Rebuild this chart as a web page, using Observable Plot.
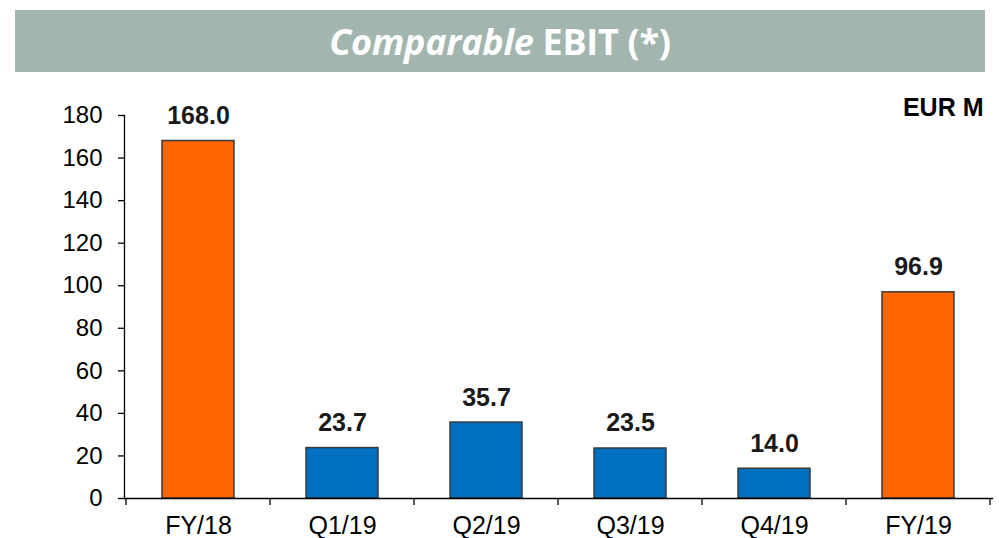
<!DOCTYPE html>
<html><head><meta charset="utf-8">
<script src="https://cdn.jsdelivr.net/npm/d3@7"></script>
<script src="https://cdn.jsdelivr.net/npm/@observablehq/plot@0.6"></script>
<style>
body{margin:0;background:#fff;width:999px;height:538px;overflow:hidden;position:relative}
#title{position:absolute;left:15px;top:10px;width:970px;height:62px;background:#A2B5AF;color:#fff;font:bold 36px "Open Sans",sans-serif;display:flex;align-items:center;justify-content:center;letter-spacing:-0.3px}
#chart{position:absolute;left:0;top:72px}
</style></head><body>
<div id="title"><span><i>Comparable</i> EBIT (*)</span></div>
<div id="chart"></div>
<script>
const categories = ["FY/18", "Q1/19", "Q2/19", "Q3/19", "Q4/19", "FY/19"];
const values = [168.0, 23.7, 35.7, 23.5, 14.0, 96.9];
const kinds = ["year", "quarter", "quarter", "quarter", "quarter", "year"];
const yTicks = [0, 20, 40, 60, 80, 100, 120, 140, 160, 180];
const unitLabel = "EUR M";

const data = categories.map((c, i) => ({cat: c, value: values[i], kind: kinds[i]}));

const boundaryTicks = (index, scales, vals, dims) => {
  const x = scales.x;
  const bw = typeof x.bandwidth === "function" ? x.bandwidth() : scales.scales.x.bandwidth;
  const step = typeof x.step === "function" ? x.step() : bw * 2;
  const half = (step - bw) / 2;
  const y0 = dims.height - dims.marginBottom;
  const xs = categories.map(c => x(c) - half);
  xs.push(x(categories[categories.length - 1]) + bw + half);
  const g = d3.create("svg:g").attr("stroke", "#000").attr("stroke-width", 1.3);
  for (const xv of xs) g.append("line").attr("x1", xv).attr("x2", xv).attr("y1", y0).attr("y2", y0 + 7);
  return g.node();
};

const chart = Plot.plot({
  width: 999, height: 466,
  marginTop: 43, marginBottom: 40, marginLeft: 124, marginRight: 7,
  style: {fontFamily: "Arial, 'Liberation Sans', sans-serif", fontSize: "24px", color: "#000", background: "transparent", overflow: "visible"},
  x: {domain: categories, paddingInner: 0.5, paddingOuter: 0.25, label: null},
  y: {domain: [0, 180], label: null},
  color: {domain: ["year", "quarter"], range: ["#FF6600", "#0070C0"]},
  marks: [
    Plot.barY(data, {x: "cat", y: "value", fill: "kind", stroke: "#3a3a3a", strokeWidth: 1.5}),
    Plot.axisY({ticks: yTicks, tickSize: 6, tickPadding: 16, fontSize: 24, label: null, strokeWidth: 1.3}),
    Plot.axisX({tickSize: 0, tickPadding: 18, fontSize: 25, label: null}),
    Plot.frame({anchor: "left", stroke: "#000", strokeWidth: 1.3}),
    Plot.frame({anchor: "bottom", stroke: "#000", strokeWidth: 1.3}),
    boundaryTicks,
    Plot.text(data, {x: "cat", y: "value", text: d => d.value.toFixed(1), lineAnchor: "bottom", dy: -17, fontWeight: "bold", fontSize: 25, fill: "#1a1a1a"}),
    Plot.text([unitLabel], {frameAnchor: "top-right", text: d => d, textAnchor: "end", lineAnchor: "middle", dx: -9, dy: -8, fontWeight: "bold", fontSize: 25, fill: "#000"})
  ]
});
document.getElementById("chart").appendChild(chart);
</script>
</body></html>
